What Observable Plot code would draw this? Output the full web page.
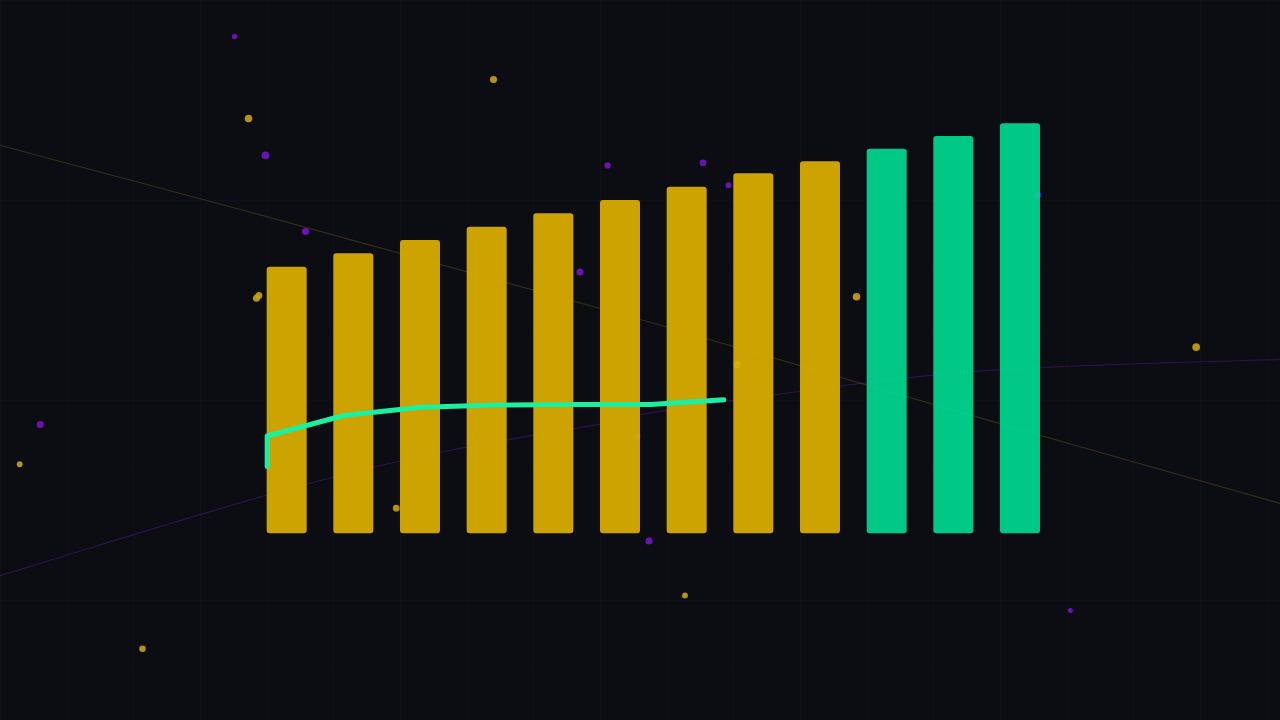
<!DOCTYPE html>
<html>
<head>
<meta charset="utf-8">
<script src="https://cdn.jsdelivr.net/npm/d3@7"></script>
<script src="https://cdn.jsdelivr.net/npm/@observablehq/plot@0.6"></script>
<style>
  html, body { margin: 0; padding: 0; background: #0b0d12; overflow: hidden; }
  #chart svg { display: block; }
</style>
</head>
<body>
<div id="chart"></div>
<script>
// Bars: slot index and value
const barIndex = [0, 1, 2, 3, 4, 5, 6, 7, 8, 9, 10, 11];
const barValues = [20, 21, 22, 23, 24, 25, 26, 27, 27.9, 28.85, 29.8, 30.75];
const barGroup = ["gold","gold","gold","gold","gold","gold","gold","gold","gold","green","green","green"];

// Bright line
const lineX = [0, 0, 1.15, 2.3, 3.45, 4.6, 5.75, 6.85];
const lineY = [5.05, 7.34, 8.875, 9.5, 9.66, 9.7, 9.7, 10.05];

// Faint background trend lines
const purpleX = [-4, -2.29, -0.025, 2.735, 5.18, 5.6, 8.9, 11.6, 15.2];
const purpleY = [-3.125, -0.5, 2.875, 6.25, 8.375, 8.95, 11.275, 12.475, 13.075];
const amberX = [-4, -0.4, 5.6, 11.6, 15.2];
const amberY = [29.125, 24.325, 16.075, 7.375, 2.275];

// Scattered dots
const dotX = [-0.49, 3.395, -0.28, -0.025, 0.575, 5.105, 6.5375, 6.92, 4.6925, -0.16, -0.125, 8.84, 11.56, 13.935, 7.05, -3.405, -3.712, 5.555, 1.935, 5.7275, 6.2675, 12.047, -1.87];
const dotY = [37.3, 34.08, 31.15, 28.38, 22.67, 27.63, 27.83, 26.15, 19.64, 17.67, 17.875, 17.78, 25.41, 14.0, 12.68, 8.2, 5.22, 7.3, 1.92, -0.54, -4.625, -5.75, -8.62];
const dotR = [1.7, 3, 3.5, 3.5, 3, 2.3, 2.7, 2, 3, 3, 3, 3.5, 3, 3.5, 3, 3, 2, 2, 2.7, 3, 2, 1.5, 2.5];
const dotKind = ["p","g","g","p","p","p","p","p","p","g","g","g","p","g","g","p","g","p","g","p","g","p","g"];

// Grid ticks
const gridXTicks = d3.range(-4, 16, 1);
const gridYTicks = d3.range(-10, 45, 5);

const bars = barIndex.map((i, k) => ({x1: i, x2: i + 0.6, v: barValues[k], g: barGroup[k]}));
const line = lineX.map((x, k) => ({x, y: lineY[k]}));
const purple = purpleX.map((x, k) => ({x, y: purpleY[k]}));
const amber = amberX.map((x, k) => ({x, y: amberY[k]}));
const dots = dotX.map((x, k) => ({x, y: dotY[k], r: dotR[k], k: dotKind[k]}));

const colors = {gold: "#ddb000", green: "#00d991", g: "#caa214", p: "#7614c4"};

const chart = Plot.plot({
  width: 1280,
  height: 720,
  margin: 0,
  x: {domain: [-4, 15.2], axis: null},
  y: {domain: [-14, 40], axis: null},
  style: {background: "#0b0d12"},
  marks: [
    Plot.gridX(gridXTicks, {stroke: "#ffffff", strokeOpacity: 0.022}),
    Plot.gridY(gridYTicks, {stroke: "#ffffff", strokeOpacity: 0.015}),
    Plot.line(amber, {x: "x", y: "y", curve: "natural", stroke: "#c9a227", strokeOpacity: 0.22, strokeWidth: 1.2}),
    Plot.line(purple, {x: "x", y: "y", curve: "natural", stroke: "#7a1fd6", strokeOpacity: 0.32, strokeWidth: 1.2}),
    Plot.dot(dots, {x: "x", y: "y", r: "r", fill: d => colors[d.k], fillOpacity: 0.9, stroke: "none"}),
    Plot.rect(bars, {x1: "x1", x2: "x2", y1: 0, y2: "v", fill: d => colors[d.g], fillOpacity: 0.92, rx: 3}),
    Plot.line(line, {x: "x", y: "y", stroke: "#19f0a0", strokeWidth: 5, strokeLinecap: "round", strokeLinejoin: "round"})
  ]
});
chart.setAttribute("style", "background:#0b0d12");
document.getElementById("chart").append(chart);
</script>
</body>
</html>
